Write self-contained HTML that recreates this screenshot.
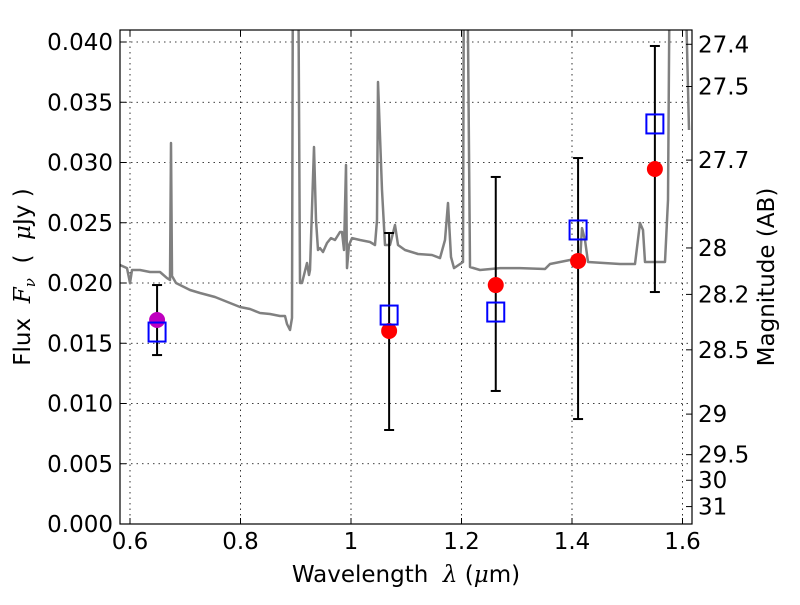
<!DOCTYPE html>
<html><head><meta charset="utf-8"><style>
html,body{margin:0;padding:0;background:#fff;}
svg text{font-family:"DejaVu Sans","Liberation Sans",sans-serif;fill:#000;white-space:pre;}
.m{font-family:"DejaVu Serif","Liberation Serif",serif;font-style:italic;}
</style></head><body>
<svg id="chart" width="800" height="600" viewBox="0 0 800 600" xmlns="http://www.w3.org/2000/svg">
<defs><clipPath id="plotclip"><rect x="120" y="30" width="572" height="494"/></clipPath></defs>
<rect x="0" y="0" width="800" height="600" fill="#fff"/>
<g id="grid"></g>
<g id="spec" clip-path="url(#plotclip)"></g>
<g id="marks"></g>
<rect x="120" y="30" width="572" height="494" fill="none" stroke="#000" stroke-width="1.2"/>
<g id="axes"></g>
<text x="406" y="582" font-size="23" text-anchor="middle">Wavelength&#160;&#160;<tspan class="m">λ</tspan>&#160;(<tspan class="m">μ</tspan>m)</text>
<text transform="translate(30,277) rotate(-90)" font-size="23" text-anchor="middle">Flux&#160;&#160;<tspan class="m">F</tspan><tspan class="m" font-size="15" dy="5">ν</tspan><tspan dy="-5">&#160;&#160;(&#160;&#160;</tspan><tspan class="m">μ</tspan>Jy&#160;)</text>
<text transform="translate(774,277) rotate(-90)" font-size="23" text-anchor="middle">Magnitude (AB)</text>
</svg>
<script>
const xTicks=[0.6,0.8,1.0,1.2,1.4,1.6];
const xTickLabels=["0.6","0.8","1","1.2","1.4","1.6"];
const yTicks=[0,0.005,0.010,0.015,0.020,0.025,0.030,0.035,0.040];
const yTickLabels=["0.000","0.005","0.010","0.015","0.020","0.025","0.030","0.035","0.040"];
const magTicks=[27.4,27.5,27.7,28,28.2,28.5,29,29.5,30,31];
const magTickLabels=["27.4","27.5","27.7","28","28.2","28.5","29","29.5","30","31"];
const specWl=[0.5819,0.5946,0.6,0.6036,0.6181,0.6362,0.6543,0.6670,0.6724,0.6742,0.6760,0.6833,0.6905,0.7086,0.7267,0.7538,0.7810,0.7991,0.8172,0.8353,0.8534,0.8715,0.8805,0.8842,0.8896,0.8932,0.8950,0.9041,0.9077,0.9113,0.9204,0.9240,0.9258,0.9330,0.9367,0.9403,0.9439,0.9493,0.9566,0.9638,0.9710,0.9801,0.9837,0.9873,0.9910,0.9928,0.9964,1.0018,1.0163,1.0344,1.0434,1.0471,1.0489,1.0561,1.0615,1.0706,1.0796,1.0851,1.0977,1.1213,1.1466,1.1611,1.1701,1.1756,1.1810,1.1864,1.2027,1.2045,1.2100,1.2154,1.2335,1.2697,1.3059,1.3511,1.3602,1.3964,1.4145,1.4181,1.4235,1.4290,1.4869,1.5140,1.5231,1.5285,1.5321,1.5683,1.5738,1.5774,1.6027,1.6118];
const specFlux=[0.02149,0.02124,0.02000,0.02108,0.02108,0.02091,0.02091,0.02041,0.02025,0.03162,0.02058,0.02000,0.01983,0.01942,0.01917,0.01884,0.01834,0.01801,0.01784,0.01751,0.01743,0.01726,0.01726,0.01660,0.01610,0.01710,0.05,0.05,0.02000,0.02000,0.02166,0.02066,0.02108,0.03129,0.02523,0.02274,0.02290,0.02257,0.02332,0.02373,0.02357,0.02423,0.02423,0.02274,0.02979,0.02124,0.02315,0.02373,0.02357,0.02340,0.02315,0.02523,0.03668,0.02772,0.02315,0.02315,0.02481,0.02315,0.02274,0.02241,0.02232,0.02207,0.02357,0.02664,0.02216,0.02124,0.02174,0.05,0.05,0.02133,0.02108,0.02124,0.02124,0.02116,0.02158,0.02191,0.02174,0.02456,0.02357,0.02174,0.02158,0.02158,0.02498,0.02440,0.02174,0.02174,0.02689,0.05,0.05,0.03270];
const photWl=[0.649,1.069,1.262,1.411,1.550];
const obsFlux=[0.01693,0.01602,0.01983,0.02183,0.02946];
const errLow=[0.01402,0.0078,0.01104,0.00871,0.01925];
const errHigh=[0.01983,0.02415,0.0288,0.03037,0.03967];
const modelFlux=[0.01593,0.01734,0.01759,0.0244,0.0332];

const NS="http://www.w3.org/2000/svg";
const X0=120,X1=692,Y0=30,Y1=524;
const xs=v=>130+(v-0.6)*552.5;
const ys=v=>524-v*12050;
const magToFlux=m=>Math.pow(10,(23.9-m)/2.5);
function mk(tag,attrs,parent){const e=document.createElementNS(NS,tag);for(const k in attrs)e.setAttribute(k,attrs[k]);parent.appendChild(e);return e;}
const grid=document.getElementById('grid'),axes=document.getElementById('axes');
xTicks.forEach((t,i)=>{const x=xs(t);
 const g=mk('line',{x1:x,x2:x,y1:Y0,y2:Y1,stroke:'#000','stroke-width':0.8,'stroke-dasharray':'1.5,4'},grid);
 
 mk('line',{x1:x,x2:x,y1:Y1,y2:Y1-6,stroke:'#000'},axes);
 mk('line',{x1:x,x2:x,y1:Y0,y2:Y0+6,stroke:'#000'},axes);
 const l=mk('text',{x:x,y:549,'font-size':23,'text-anchor':'middle'},axes);l.textContent=xTickLabels[i];
 });
yTicks.forEach((t,i)=>{const y=ys(t);
 const g=mk('line',{x1:X0,x2:X1,y1:y,y2:y,stroke:'#000','stroke-width':0.8,'stroke-dasharray':'1.5,4'},grid);
 
 mk('line',{x1:X0,x2:X0+6,y1:y,y2:y,stroke:'#000'},axes);
 const l=mk('text',{x:113,y:y+8,'font-size':23,'text-anchor':'end'},axes);l.textContent=yTickLabels[i];
 });
magTicks.forEach((m,i)=>{const y=ys(magToFlux(m));
 mk('line',{x1:X1,x2:X1-6,y1:y,y2:y,stroke:'#000'},axes);
 const l=mk('text',{x:698,y:y+8,'font-size':23,'text-anchor':'start'},axes);l.textContent=magTickLabels[i];
 });
const spec=document.getElementById('spec');
const d=specWl.map((w,i)=>(i?'L':'M')+xs(w).toFixed(1)+','+ys(specFlux[i]).toFixed(1)).join(' ');
const sp=mk('path',{d:d,fill:'none',stroke:'#808080','stroke-width':2.5,'stroke-linejoin':'round'},spec);

const marks=document.getElementById('marks');
photWl.forEach((w,i)=>{const x=xs(w);
 const eb=mk('line',{x1:x,x2:x,y1:ys(errLow[i]),y2:ys(errHigh[i]),stroke:'#000','stroke-width':2},marks);
 
 [errLow[i],errHigh[i]].forEach(v=>mk('line',{x1:x-5,x2:x+5,y1:ys(v),y2:ys(v),stroke:'#000','stroke-width':2},marks));
 const c=mk('circle',{cx:x,cy:ys(obsFlux[i]),r:8,fill:i===0?'#bf00bf':'#ff0000'},marks);
 
 const s=mk('rect',{x:x-8.5,y:ys(modelFlux[i])-9.5,width:17,height:19,fill:'none',stroke:'#0000ff','stroke-width':2},marks);
 });
</script>
</body></html>
